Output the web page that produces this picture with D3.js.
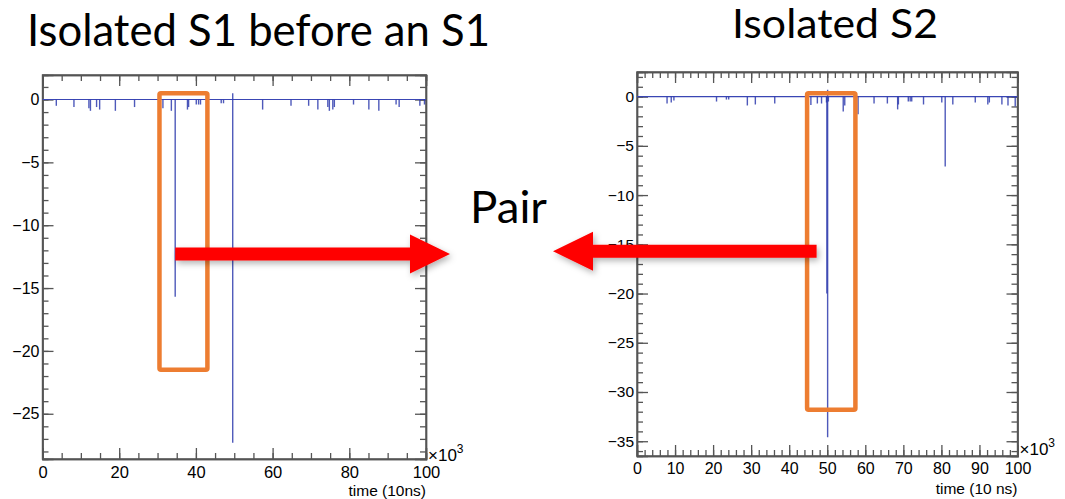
<!DOCTYPE html>
<html>
<head>
<meta charset="utf-8">
<script src="https://cdn.jsdelivr.net/npm/d3@7"></script>
<style>
  body { margin: 0; background: #fff; }
  svg { display: block; }
  .tick text { font-family: "Liberation Sans", Arial, sans-serif; fill: #000; }
  .frame path.domain { stroke: #555; stroke-width: 1.4; }
  .frame .tick line { stroke: #555; stroke-width: 1.3; }
</style>
</head>
<body>
<svg id="chart" width="1065" height="499"></svg>
<script>
// S1 waveform: spike times (x10^3 samples of 10 ns), lowest and highest value of each pulse
const s1Times = [3.6, 8.2, 12.1, 12.5, 14.1, 14.9, 19.0, 24.0, 31.4, 33.6, 34.6, 37.8, 38.1, 40.1, 40.7, 41.2, 46.6, 47.2, 49.6, 57.4, 64.8, 69.4, 71.8, 74.4, 74.8, 75.7, 76.1, 81.1, 85.1, 87.7, 92.2, 93.0, 98.4, 99.6];
const s1Mins  = [-0.5, -0.6, -0.7, -0.9, -0.6, -0.8, -0.9, -0.6, -0.7, -0.9, -15.7, -0.8, -0.6, -0.4, -0.4, -0.4, -0.3, -0.3, -27.3, -0.8, -0.5, -0.5, -0.8, -0.6, -0.9, -0.8, -0.6, -0.4, -0.8, -0.9, -0.4, -0.6, -0.5, -0.4];
const s1Maxs  = [0, 0, 0, 0, 0, 0, 0, 0, 0, 0, 0, 0, 0, 0, 0, 0, 0, 0, 0.5, 0, 0, 0, 0, 0, 0, 0, 0, 0, 0, 0, 0, 0, 0, 0];

// S2 waveform
const s2Times = [7.9, 9.0, 9.7, 20.9, 23.5, 24.1, 29.0, 31.1, 36.2, 45.7, 47.4, 48.5, 49.8, 49.9, 50.1, 50.3, 54.2, 54.6, 58.1, 62.3, 65.8, 68.5, 68.7, 71.3, 71.8, 72.2, 75.3, 80.1, 81.0, 83.0, 88.9, 92.2, 92.6, 95.9, 97.5, 99.4];
const s2Mins  = [-0.7, -0.6, -0.4, -0.5, -0.3, -0.3, -0.9, -0.8, -0.7, -0.85, -0.7, -0.7, -0.6, -20, -34.6, -0.5, -1.5, -0.9, -1.8, -0.7, -0.7, -1.3, -0.8, -0.5, -0.5, -0.5, -0.8, -0.6, -7.1, -0.8, -0.6, -0.8, -0.6, -0.8, -0.9, -1.0];
const s2Maxs  = [0, 0, 0, 0, 0, 0, 0, 0, 0, 0, 0, 0, 0, 0, 0.7, 0, 0, 0, 0, 0, 0, 0, 0, 0, 0, 0, 0, 0, 0, 0, 0, 0, 0, 0, 0, 0];

// selection windows [t0, t1, yTop, yBottom]
const s1Window = [30.5, 43, 0.5, -21.5];
const s2Window = [44.7, 57.4, 0.35, -31.8];

// arrow start points on the pulses [t, value]
const s1ArrowFrom = [34.6, -12.3];
const s2ArrowFrom = [47.2, -15.7];

const svg = d3.select("#chart");

const defs = svg.append("defs");
const shadow = defs.append("filter").attr("id", "shadow")
  .attr("x", "-20%").attr("y", "-50%").attr("width", "140%").attr("height", "250%");
shadow.append("feDropShadow").attr("dx", 2).attr("dy", 3).attr("stdDeviation", 3)
  .attr("flood-color", "#000").attr("flood-opacity", 0.3);

function drawPanel(p) {
  const x = d3.scaleLinear().domain([0, 100]).range([p.left, p.right]);
  const y = d3.scaleLinear().domain(p.yDomain).range([p.bottom, p.top]);
  const g = svg.append("g").attr("class", "frame");

  const xMinor = d3.range(0, 100.01, p.xMinor);
  const xMajor = d3.range(0, 100.01, p.xMajor);
  const yMinor = d3.range(Math.ceil(p.yDomain[0]), p.yDomain[1], 1);
  const yMajor = yMinor.filter(v => v % 5 === 0);

  // minor ticks (all four sides, pointing inward)
  g.append("g").attr("transform", `translate(0,${p.bottom})`)
    .call(d3.axisBottom(x).tickValues(xMinor).tickSize(-6).tickFormat(""));
  g.append("g").attr("transform", `translate(0,${p.top})`)
    .call(d3.axisTop(x).tickValues(xMinor).tickSize(-6).tickFormat(""));
  g.append("g").attr("transform", `translate(${p.left},0)`)
    .call(d3.axisLeft(y).tickValues(yMinor).tickSize(-6).tickFormat(""));
  g.append("g").attr("transform", `translate(${p.right},0)`)
    .call(d3.axisRight(y).tickValues(yMinor).tickSize(-6).tickFormat(""));

  // major ticks with labels
  const xa = g.append("g").attr("transform", `translate(0,${p.bottom})`)
    .call(d3.axisBottom(x).tickValues(xMajor).tickSize(-11).tickPadding(8).tickFormat(d3.format("d")));
  xa.selectAll(".tick text").attr("font-size", p.xFont).attr("dy", 0)
    .attr("y", p.xLabelY - p.bottom);
  g.append("g").attr("transform", `translate(0,${p.top})`)
    .call(d3.axisTop(x).tickValues(xMajor).tickSize(-11).tickFormat(""));
  const ya = g.append("g").attr("transform", `translate(${p.left},0)`)
    .call(d3.axisLeft(y).tickValues(yMajor).tickSize(-11).tickPadding(3)
      .tickFormat(d => d < 0 ? "\u2212" + Math.abs(d) : d));
  ya.selectAll(".tick text").attr("font-size", p.yFont);
  g.append("g").attr("transform", `translate(${p.right},0)`)
    .call(d3.axisRight(y).tickValues(yMajor).tickSize(-11).tickFormat(""));

  // full frame
  g.append("rect").attr("x", p.left).attr("y", p.top)
    .attr("width", p.right - p.left).attr("height", p.bottom - p.top)
    .attr("fill", "none").attr("stroke", "#555").attr("stroke-width", 1.4);

  // baseline of the waveform
  svg.append("line")
    .attr("x1", x(0)).attr("x2", x(100)).attr("y1", y(0)).attr("y2", y(0))
    .attr("stroke", "#3a46b4").attr("stroke-width", 1.2);

  // pulses
  svg.append("g").selectAll("line").data(p.times).join("line")
    .attr("x1", d => x(d)).attr("x2", d => x(d))
    .attr("y1", (d, i) => y(p.maxs[i]))
    .attr("y2", (d, i) => y(p.mins[i]))
    .attr("stroke", "#2f3cae").attr("stroke-opacity", 0.85).attr("stroke-width", 1.4);

  // x10^3 multiplier and axis title
  const mult = svg.append("text").attr("x", p.right + 2).attr("y", p.multY)
    .attr("font-family", "Liberation Sans, Arial, sans-serif").attr("font-size", 17);
  mult.append("tspan").text("\u00d710");
  mult.append("tspan").attr("dy", -8).attr("font-size", 12).text("3");
  svg.append("text").attr("x", p.right).attr("y", p.titleY)
    .attr("text-anchor", "end")
    .attr("font-family", "Liberation Sans, Arial, sans-serif").attr("font-size", p.titleFont)
    .text(p.xTitle);

  // selection window
  const w = p.window;
  svg.append("rect")
    .attr("x", x(w[0])).attr("y", y(w[2]))
    .attr("width", x(w[1]) - x(w[0])).attr("height", y(w[3]) - y(w[2]))
    .attr("rx", 1.5)
    .attr("fill", "none").attr("stroke", "#ed7d31").attr("stroke-width", 4.5);

  return { x, y };
}

const left = drawPanel({
  left: 42.5, right: 426, top: 75, bottom: 459, yDomain: [-28.6, 1.95],
  xMinor: 5, xMajor: 20, xFont: 16.5, yFont: 16, xLabelY: 478,
  times: s1Times, mins: s1Mins, maxs: s1Maxs, window: s1Window,
  multY: 461, titleY: 496, titleFont: 15.5, xTitle: "time (10ns)"
});

const right = drawPanel({
  left: 637, right: 1017.5, top: 72, bottom: 456, yDomain: [-36.5, 2.5],
  xMinor: 2, xMajor: 10, xFont: 16, yFont: 15.5, xLabelY: 474,
  times: s2Times, mins: s2Mins, maxs: s2Maxs, window: s2Window,
  multY: 455, titleY: 494, titleFont: 15.5, xTitle: "time (10 ns)"
});

// arrows pointing to "Pair"
function arrow(x0, yc, tip) {
  const dir = Math.sign(tip - x0);
  const headLen = 40, shaftHalf = 6.5, headHalf = 19.5;
  const hb = tip - dir * headLen;
  return `M${x0},${yc - shaftHalf} L${hb},${yc - shaftHalf} L${hb},${yc - headHalf} L${tip},${yc}` +
    ` L${hb},${yc + headHalf} L${hb},${yc + shaftHalf} L${x0},${yc + shaftHalf} Z`;
}
svg.append("path")
  .attr("d", arrow(left.x(s1ArrowFrom[0]), left.y(s1ArrowFrom[1]), 450))
  .attr("fill", "#ff0000").attr("filter", "url(#shadow)");
svg.append("path")
  .attr("d", arrow(right.x(s2ArrowFrom[0]), right.y(s2ArrowFrom[1]), 553))
  .attr("fill", "#ff0000").attr("filter", "url(#shadow)");

// slide captions
const cap = "Lato, 'Open Sans', sans-serif";
svg.append("text").attr("x", 27).attr("y", 46)
  .attr("font-family", cap).attr("font-size", 45)
  .attr("textLength", 463).attr("lengthAdjust", "spacingAndGlyphs")
  .text("Isolated S1 before an S1");
svg.append("text").attr("x", 732).attr("y", 38)
  .attr("font-family", cap).attr("font-size", 40)
  .attr("textLength", 206).attr("lengthAdjust", "spacingAndGlyphs")
  .text("Isolated S2");
svg.append("text").attr("x", 470).attr("y", 223)
  .attr("font-family", cap).attr("font-size", 45)
  .attr("textLength", 77).attr("lengthAdjust", "spacingAndGlyphs")
  .text("Pair");
</script>
</body>
</html>
